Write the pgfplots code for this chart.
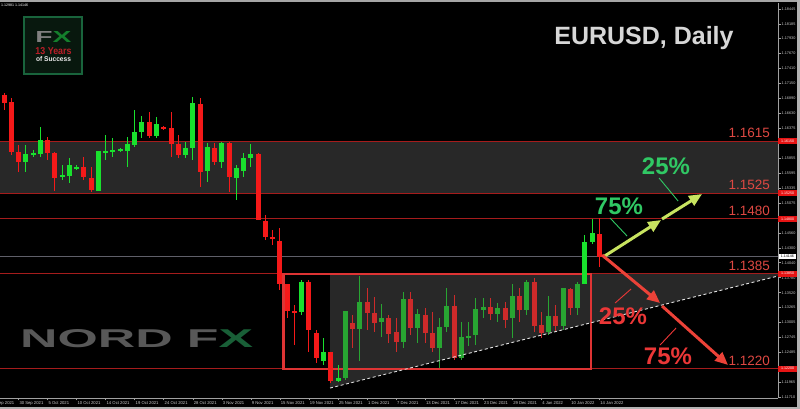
\documentclass[border=0pt]{standalone}
\usepackage{pgfplots}
\pgfplotsset{compat=1.18}
\usepackage{pgfplotstable}
\usepackage{graphicx}
\usetikzlibrary{arrows.meta}
\usepackage{fontspec}
\setmainfont{Liberation Sans}
\setsansfont{Liberation Sans}

\definecolor{band}{RGB}{40,40,40}
\definecolor{lred}{RGB}{165,28,28}
\definecolor{boxred}{RGB}{222,52,52}
\definecolor{labred}{RGB}{222,72,66}
\definecolor{bid}{RGB}{95,95,105}
\definecolor{cg}{RGB}{25,225,45}
\definecolor{cr}{RGB}{245,25,25}
\definecolor{mg}{RGB}{40,165,50}
\definecolor{mr}{RGB}{205,42,42}
\definecolor{pg}{RGB}{48,200,100}
\definecolor{pr}{RGB}{235,55,55}
\definecolor{ag}{RGB}{200,228,96}
\definecolor{ar}{RGB}{236,66,56}
\definecolor{tgray}{RGB}{215,215,215}
\definecolor{axgray}{RGB}{160,160,160}
\definecolor{tickgray}{RGB}{205,205,205}
\definecolor{xg}{RGB}{25,95,55}
\definecolor{logobg}{RGB}{8,24,14}
\definecolor{logog}{RGB}{25,100,60}
\definecolor{logor}{RGB}{185,30,40}
\definecolor{nordgray}{RGB}{88,88,88}
\definecolor{boxfill}{RGB}{230,20,20}

% candles: index, open, high, low, close
\pgfplotstableread{
i o h l c
4 1.15789 1.16084 1.15615 1.15928
5 1.15910 1.15997 1.15875 1.15945
6 1.15928 1.16396 1.15875 1.16171
9 1.15528 1.15737 1.15476 1.15563
10 1.15546 1.15858 1.15424 1.15737
11 1.15667 1.15737 1.15650 1.15702
14 1.15285 1.15980 1.15285 1.15980
15 1.15962 1.16257 1.15823 1.15980
16 1.15962 1.16205 1.15875 1.15997
17 1.15980 1.16032 1.15962 1.16014
18 1.15980 1.16223 1.15702 1.16101
19 1.16084 1.16691 1.16049 1.16309
20 1.16309 1.16587 1.16205 1.16483
22 1.16240 1.16570 1.16205 1.16448
26 1.15910 1.16136 1.15858 1.16032
27 1.16032 1.16917 1.15823 1.16813
29 1.15632 1.16119 1.15441 1.16049
31 1.15789 1.16136 1.15685 1.16119
33 1.15511 1.15737 1.15129 1.15685
34 1.15632 1.15945 1.15528 1.15858
35 1.15858 1.16101 1.15702 1.15928
42 1.13185 1.13740 1.13133 1.13705
45 1.12334 1.12733 1.12265 1.12490
47 1.11987 1.12265 1.11969 1.12039
81 1.13671 1.14521 1.13671 1.14400
82 1.14400 1.14799 1.14365 1.14556
}\upB
\pgfplotstableread{
i o h l c
1 1.16952 1.16987 1.16691 1.16813
2 1.16830 1.16900 1.15910 1.15962
3 1.15962 1.16084 1.15615 1.15789
7 1.16171 1.16223 1.15823 1.15945
8 1.15945 1.15962 1.15285 1.15511
12 1.15702 1.15875 1.15476 1.15528
13 1.15511 1.15702 1.15268 1.15303
21 1.16483 1.16657 1.16205 1.16240
23 1.16396 1.16414 1.16344 1.16362
24 1.16379 1.16657 1.15875 1.16101
25 1.16101 1.16257 1.15858 1.15910
28 1.16796 1.16900 1.15355 1.15615
30 1.16032 1.16119 1.15737 1.15789
32 1.16119 1.16136 1.15268 1.15528
36 1.15928 1.15945 1.14782 1.14782
37 1.14764 1.14869 1.14435 1.14487
38 1.14487 1.14608 1.14348 1.14469
39 1.14417 1.14643 1.13567 1.13671
40 1.13671 1.13671 1.13081 1.13202
41 1.13202 1.13306 1.12612 1.13167
43 1.13705 1.13740 1.12490 1.12872
44 1.12820 1.12872 1.12299 1.12386
46 1.12490 1.12490 1.11952 1.11987
83 1.14539 1.14817 1.13966 1.14139
}\dnB
\pgfplotstableread{
i o h l c
48 1.12039 1.13202 1.12004 1.13202
50 1.12890 1.13810 1.12334 1.13358
53 1.13011 1.13324 1.12751 1.13081
56 1.12664 1.13532 1.12560 1.13410
58 1.12907 1.13237 1.12647 1.13150
61 1.12560 1.13081 1.12213 1.12924
62 1.12924 1.13601 1.12837 1.13289
64 1.12386 1.13011 1.12351 1.12751
65 1.12733 1.13011 1.12594 1.12768
66 1.12785 1.13428 1.12612 1.13237
67 1.13219 1.13428 1.13081 1.13271
69 1.13150 1.13341 1.13011 1.13254
71 1.13081 1.13671 1.12733 1.13462
73 1.13219 1.13740 1.13133 1.13705
76 1.12837 1.13462 1.12785 1.13115
78 1.12941 1.13601 1.12872 1.13601
80 1.13254 1.13705 1.13133 1.13671
}\upM
\pgfplotstableread{
i o h l c
49 1.12993 1.13133 1.12560 1.12890
51 1.13358 1.13601 1.12872 1.13167
52 1.13167 1.13445 1.12837 1.12993
54 1.13081 1.13133 1.12647 1.12803
55 1.12837 1.13081 1.12490 1.12664
57 1.13410 1.13532 1.12785 1.12907
59 1.13133 1.13254 1.12647 1.12820
60 1.12820 1.13185 1.12490 1.12560
63 1.13289 1.13480 1.12351 1.12386
68 1.13271 1.13428 1.13046 1.13150
70 1.13254 1.13358 1.12907 1.13046
72 1.13462 1.13601 1.13011 1.13219
74 1.13705 1.13775 1.12837 1.12941
75 1.12959 1.13185 1.12733 1.12820
77 1.13115 1.13306 1.12855 1.12941
79 1.13584 1.13601 1.13133 1.13254
}\dnM

\pgfplotsset{
  wick/.style={draw=none, forget plot,
    error bars/.cd, y dir=both, y explicit, error mark=none,
    error bar style={draw=#1, line width=1pt}},
  body/.style={draw=none, forget plot,
    error bars/.cd, y dir=both, y explicit, error mark=none,
    error bar style={draw=#1, line width=5pt}},
}
\tikzset{
  lvl/.style={anchor=base east, inner sep=0pt, yshift=3.5pt, font=\fontsize{13.5}{13.5}\selectfont, text=labred},
  mk/.style={anchor=west, fill=boxfill, text=white, inner sep=0.5pt, minimum width=19pt, minimum height=6pt, font=\fontsize{3.6}{4}\selectfont},
  pct/.style={inner sep=0pt, font=\bfseries\fontsize{24}{24}\selectfont},
}
\newcommand{\candles}[2]{%
  \addplot[wick=#2] table[x=i, y expr={(\thisrow{h}+\thisrow{l})/2}, y error expr={(\thisrow{h}-\thisrow{l})/2}] {#1};
  \addplot[body=#2] table[x=i, y expr={(\thisrow{o}+\thisrow{c})/2}, y error expr={abs(\thisrow{c}-\thisrow{o})/2}] {#1};
}

\begin{document}
\begin{tikzpicture}
\path[use as bounding box] (0pt,-11pt) rectangle (800pt,398pt);
\fill[black] (0pt,-11pt) rectangle (800pt,398pt);
\begin{axis}[
  at={(0pt,0pt)}, anchor=south west,
  width=778pt, height=395pt, scale only axis,
  xmin=0.449, xmax=107.6, ymin=1.11692, ymax=1.18549,
  clip=false,
  axis x line*=bottom, axis y line*=right,
  axis line style={draw=axgray, line width=0.8pt, -},
  tick align=outside, major tick length=2.5pt,
  tick style={draw=axgray, line width=0.5pt},
  xtick={3,7,...,83},
  xticklabels={30 Sep 2021,5 Oct 2021,10 Oct 2021,14 Oct 2021,19 Oct 2021,24 Oct 2021,28 Oct 2021,3 Nov 2021,9 Nov 2021,15 Nov 2021,19 Nov 2021,25 Nov 2021,1 Dec 2021,7 Dec 2021,13 Dec 2021,17 Dec 2021,23 Dec 2021,29 Dec 2021,4 Jan 2022,10 Jan 2022,14 Jan 2022},
  xticklabel style={font=\fontsize{4.2}{5}\selectfont, text=tickgray, anchor=north west, inner sep=0.8pt},
  ytick={1.18445,1.18185,1.17930,1.17670,1.17410,1.17150,1.16890,1.16630,1.16375,1.15855,1.15595,1.15335,1.15075,1.14560,1.14300,1.14040,1.13780,1.13520,1.13265,1.13005,1.12745,1.12485,1.11965,1.11710},
  yticklabels={1.18445,1.18185,1.17930,1.17670,1.17410,1.17150,1.16890,1.16630,1.16375,1.15855,1.15595,1.15335,1.15075,1.14560,1.14300,1.14040,1.13780,1.13520,1.13265,1.13005,1.12745,1.12485,1.11965,1.11710},
  yticklabel style={font=\fontsize{3.8}{4.5}\selectfont, text=tickgray, anchor=west, inner sep=1pt},
]
% resistance / support zone
\addplot[fill=band, draw=none] coordinates {(0.449,1.1525) (107.6,1.1525) (107.6,1.1615) (0.449,1.1615)} --cycle;
% triangle shading
\addplot[fill=band, draw=none] coordinates {(45.9,1.1385) (45.9,1.11865) (107.6,1.1381) (107.6,1.1385)} --cycle;
% level lines
\addplot[lred, line width=1pt] coordinates {(0.449,1.1615) (107.6,1.1615)};
\addplot[lred, line width=1pt] coordinates {(0.449,1.1525) (107.6,1.1525)};
\addplot[lred, line width=1pt] coordinates {(0.449,1.1480) (107.6,1.1480)};
\addplot[lred, line width=1pt] coordinates {(0.449,1.1385) (107.6,1.1385)};
\addplot[lred, line width=1pt] coordinates {(0.449,1.1220) (107.6,1.1220)};
% bid line
\addplot[bid, line width=0.9pt] coordinates {(0.449,1.14146) (107.6,1.14146)};
% consolidation box
\addplot[boxred, line width=2.2pt] coordinates {(39.5,1.13845) (81.85,1.13845) (81.85,1.1220) (39.5,1.1220)} --cycle;
% candles
\candles{\upB}{cg}
\candles{\dnB}{cr}
\candles{\upM}{mg}
\candles{\dnM}{mr}
% trend line
\addplot[white!75!gray, line width=0.9pt, dash pattern=on 3pt off 2.5pt] coordinates {(45.9,1.11865) (107.6,1.1381)};
% scenario arrows
\addplot[ag, line width=3pt, -{Triangle[length=13pt,width=11pt]}] coordinates {(83.51,1.14139) (91.50,1.14782)};
\addplot[ag, line width=3pt, -{Triangle[length=13pt,width=11pt]}] coordinates {(91.63,1.14799) (97.14,1.15233)};
\addplot[ar, line width=3pt, -{Triangle[length=13pt,width=11pt]}] coordinates {(83.37,1.14174) (91.36,1.13341)};
\addplot[ar, line width=3pt, -{Triangle[length=13pt,width=11pt]}] coordinates {(91.63,1.13289) (100.72,1.12265)};
% leader lines
\addplot[pg, line width=0.9pt] coordinates {(84.47,1.14817) (86.81,1.14504)};
\addplot[pg, line width=0.9pt] coordinates {(91.22,1.15511) (93.84,1.15112)};
\addplot[pr, line width=0.9pt] coordinates {(85.16,1.13341) (87.36,1.13584)};
\addplot[pr, line width=0.9pt] coordinates {(91.36,1.12612) (93.56,1.12907)};
% level labels
\node[lvl] at (axis cs:106.5,1.1615) {1.1615};
\node[lvl] at (axis cs:106.5,1.1525) {1.1525};
\node[lvl] at (axis cs:106.5,1.1480) {1.1480};
\node[lvl] at (axis cs:106.5,1.1385) {1.1385};
\node[lvl] at (axis cs:106.5,1.1220) {1.1220};
% price scale markers
\node[mk] at (axis cs:107.6,1.1615) {1.16150};
\node[mk] at (axis cs:107.6,1.1525) {1.15250};
\node[mk] at (axis cs:107.6,1.1480) {1.14800};
\node[mk] at (axis cs:107.6,1.1385) {1.13850};
\node[mk] at (axis cs:107.6,1.1220) {1.12200};
\node[anchor=west, fill=white, text=black, inner sep=0.5pt, minimum width=17pt, minimum height=5.5pt, font=\fontsize{3.6}{4}\selectfont] at (axis cs:107.7,1.14146) {1.14146};
\end{axis}
% window borders
\fill[gray!70] (0pt,395.5pt) rectangle (800pt,398pt);
\fill[gray!60] (797pt,-11pt) rectangle (800pt,398pt);
\fill[gray!60] (0pt,-11pt) rectangle (800pt,-9pt);
\node[anchor=north west, inner sep=0pt, font=\fontsize{3.6}{4}\selectfont, text=white] at (1pt,394.5pt) {1.12981 1.14146};
\node[anchor=north west, inner sep=0.8pt, font=\fontsize{4.2}{5}\selectfont, text=tickgray] at (-10.5pt,-2.5pt) {26 Sep 2021};
% title
\node[anchor=base, inner sep=0pt, font=\bfseries\fontsize{25}{25}\selectfont, text=tgray] at (644pt,353pt) {EURUSD, Daily};
% percentages
\node[pct, text=pg] at (619pt,191.5pt) {75\%};
\node[pct, text=pg] at (666pt,231.5pt) {25\%};
\node[pct, text=pr] at (623pt,81.5pt) {25\%};
\node[pct, text=pr] at (668pt,41.5pt) {75\%};
% logo
\fill[logobg] (24pt,324pt) rectangle (82pt,381pt);
\draw[logog, line width=1.5pt] (24pt,324pt) rectangle (82pt,381pt);
\node[inner sep=0pt] at (53.5pt,360.5pt) {\resizebox{36pt}{11pt}{\bfseries\textcolor{gray}{F}\textcolor{xg!80!green}{X}}};
\node[inner sep=0pt] at (53.5pt,346.5pt) {\resizebox{36pt}{7pt}{\bfseries\textcolor{logor}{13 Years}}};
\node[inner sep=0pt] at (53.5pt,339pt) {\resizebox{35pt}{5pt}{\bfseries\textcolor{white!85!gray}{of Success}}};
% watermark
\node[anchor=south west, inner sep=0pt] at (20pt,50pt) {\resizebox{233pt}{18pt}{\bfseries\textcolor{nordgray}{NORD F}\textcolor{xg}{X}}};
\end{tikzpicture}
\end{document}
